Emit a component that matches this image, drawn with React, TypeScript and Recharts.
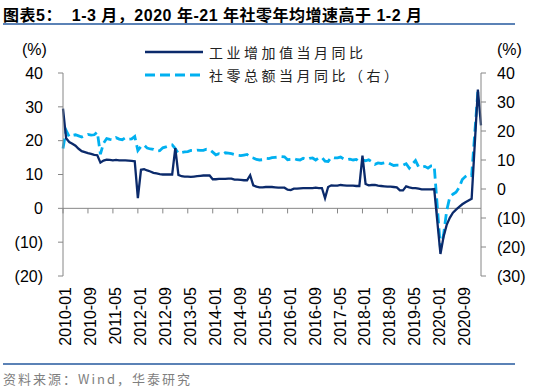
import React from 'react';
import { LineChart, Line, XAxis, YAxis, ReferenceLine } from 'recharts';

// month labels 2010-01 .. 2021-03
const months: string[] = [];
for (let y = 2010; y <= 2021; y++) {
  for (let m = 1; m <= 12; m++) {
    if (y === 2021 && m > 3) break;
    months.push(`${y}-${String(m).padStart(2, '0')}`);
  }
}

// 工业增加值 (left axis)
const industry: (number | null)[] = [
  29.5, 20.7, 19.6, 19.1, 18.5, 17.6, 16.9, 16.6, 16.3, 16.1, 15.8, 15.7,
  13.5, 14.1, 14.4, 14.3, 14.2, 14.3, 14.2, 14.2, 14.2, 14.1, 14.0, 13.9,
  3.0, 11.4, 11.6, 11.2, 10.9, 10.5, 10.3, 10.1, 10.0, 10.0, 10.0, 10.0,
  17.8, 9.9, 9.5, 9.4, 9.4, 9.3, 9.4, 9.5, 9.6, 9.7, 9.7, 9.7,
  8.6, 8.6, 8.7, 8.7, 8.7, 8.8, 8.8, 8.5, 8.5, 8.4, 8.3, 8.3,
  9.8, 6.8, 6.4, 6.2, 6.2, 6.3, 6.3, 6.3, 6.2, 6.1, 6.1, 6.1,
  5.5, 5.4, 5.8, 5.8, 5.9, 6.0, 6.0, 6.0, 6.0, 6.1, 6.0, 6.0,
  3.0, 6.3, 6.8, 6.7, 6.7, 6.9, 6.8, 6.7, 6.7, 6.7, 6.6, 6.6,
  15.6, 7.2, 6.8, 6.9, 6.9, 6.7, 6.6, 6.5, 6.4, 6.4, 6.3, 6.2,
  5.3, 5.3, 6.5, 6.2, 6.0, 6.0, 5.8, 5.6, 5.6, 5.6, 5.6, 5.7,
  null, -13.5, -8.4, -4.9, -2.8, -1.3, -0.4, 0.4, 1.2, 1.8, 2.3, 2.8,
  null, 35.1, 24.5,
];

// 社零总额 (right axis)
const retail: (number | null)[] = [
  14.0, 20.2, 18.0, 18.5, 18.7, 18.3, 17.9, 18.4, 18.8, 18.6, 18.7, 19.6,
  12.0, 15.8, 17.4, 17.1, 16.9, 17.7, 17.2, 17.0, 17.7, 17.2, 17.3, 18.1,
  13.3, 14.7, 15.2, 14.1, 13.8, 13.7, 13.1, 13.2, 14.2, 14.5, 14.9, 15.2,
  13.9, 12.3, 12.6, 12.8, 12.9, 13.3, 13.2, 13.4, 13.3, 13.3, 13.7, 13.6,
  12.7, 11.8, 12.2, 11.9, 12.5, 12.4, 12.2, 11.9, 11.6, 11.5, 11.7, 11.9,
  11.0, 10.7, 10.2, 10.0, 10.1, 10.6, 10.5, 10.8, 10.9, 11.0, 11.2, 11.1,
  10.1, 10.2, 10.5, 10.1, 10.0, 10.6, 10.2, 10.6, 10.7, 10.0, 10.8, 10.9,
  9.6, 9.5, 10.9, 10.7, 10.7, 11.0, 10.4, 10.1, 10.3, 10.0, 10.2, 9.4,
  10.1, 9.7, 10.1, 9.4, 8.5, 9.0, 8.8, 9.0, 9.2, 8.6, 8.1, 8.2,
  8.2, 8.2, 8.7, 7.2, 8.6, 9.8, 7.6, 7.5, 7.8, 7.2, 8.0, 8.0,
  null, -20.5, -15.8, -7.5, -2.8, -1.8, -1.1, 0.5, 3.3, 4.3, 5.0, 4.6,
  null, 33.8, 34.2,
];

const leftTicks = [-20, -10, 0, 10, 20, 30, 40];
const rightTicks = [-30, -20, -10, 0, 10, 20, 30, 40];

const DARK = '#0b2a6b';
const LIGHT = '#00b0f0';
const AXIS = '#868686';
const RULE = '#5b82b6';
const CJK = "'Liberation Sans', Arial, 'Noto Sans CJK SC', sans-serif";

const data = months.map((m, i) => ({ month: m, industry: industry[i], retail: retail[i] }));
const tickMonths = months.filter((_, i) => i % 8 === 0);

const fmt = (v: number) => (v < 0 ? `(${Math.abs(v)})` : `${v}`);

const MonthTick = (props: any) => {
  const { x, y, payload } = props;
  return (
    <text
      x={x}
      y={y}
      dy={8}
      transform={`rotate(-90, ${x}, ${y})`}
      textAnchor="end"
      fill="#000"
      fontSize={16}
    >
      {payload.value}
    </text>
  );
};

const legendItems = [
  { name: '工业增加值当月同比', color: DARK, dash: undefined as string | undefined, width: 2.3 },
  { name: '社零总额当月同比（右）', color: LIGHT, dash: '10 5', width: 2.8 },
];

export default function App() {
  return (
    <div
      style={{
        position: 'absolute',
        left: 0,
        top: 0,
        width: 550,
        height: 391,
        background: '#fff',
        fontFamily: CJK,
        overflow: 'hidden',
      }}
    >
      <div style={{ position: 'absolute', left: 3, top: 2, fontSize: 16, fontWeight: 'bold', letterSpacing: 0.5, whiteSpace: 'pre', color: '#000' }}>
        图表5：  1-3 月，2020 年-21 年社零年均增速高于 1-2 月
      </div>
      <div style={{ position: 'absolute', left: 3, top: 23, width: 512, height: 2, background: RULE }} />

      <div style={{ position: 'absolute', left: 22, top: 41, fontSize: 16 }}>(%)</div>
      <div style={{ position: 'absolute', left: 497, top: 41, fontSize: 16 }}>(%)</div>

      <LineChart
        width={550}
        height={391}
        data={data}
        margin={{ top: 73, right: 19, bottom: 35, left: 13 }}
      >
        <XAxis
          dataKey="month"
          interval={7}
          height={80}
          axisLine={false}
          tickLine={false}
          tickSize={0}
          tickMargin={11}
          tick={<MonthTick />}
        />
        <YAxis
          yAxisId="left"
          width={50}
          domain={[-20, 40]}
          ticks={leftTicks}
          tickFormatter={fmt}
          tick={{ fill: '#000', fontSize: 16 }}
          tickSize={5}
          tickMargin={15}
          stroke={AXIS}
        />
        <YAxis
          yAxisId="right"
          orientation="right"
          width={50}
          domain={[-30, 40]}
          ticks={rightTicks}
          tickFormatter={fmt}
          tick={{ fill: '#000', fontSize: 16 }}
          tickSize={5}
          tickMargin={11}
          stroke={AXIS}
        />
        <ReferenceLine yAxisId="left" y={0} stroke={AXIS} strokeWidth={1} />
        {tickMonths.map((m) => (
          <ReferenceLine
            key={m}
            yAxisId="left"
            segment={[{ x: m, y: 0 }, { x: m, y: -1.5 }]}
            stroke={AXIS}
            strokeWidth={1}
          />
        ))}
        <Line
          yAxisId="right"
          dataKey="retail"
          stroke={LIGHT}
          strokeWidth={2.8}
          strokeDasharray="10 5"
          dot={false}
          connectNulls
          isAnimationActive={false}
        />
        <Line
          yAxisId="left"
          dataKey="industry"
          stroke={DARK}
          strokeWidth={2.3}
          dot={false}
          connectNulls
          isAnimationActive={false}
        />
      </LineChart>

      <div style={{ position: 'absolute', left: 145, top: 40 }}>
        {legendItems.map((it) => (
          <div key={it.name} style={{ display: 'flex', alignItems: 'center', height: 23.5 }}>
            <svg width={58} height={6} style={{ marginRight: 6 }}>
              <line x1={0} y1={3} x2={58} y2={3} stroke={it.color} strokeWidth={it.width} strokeDasharray={it.dash} />
            </svg>
            <span style={{ fontSize: 14, letterSpacing: 3.5, color: '#222', fontFamily: "'Noto Sans CJK SC', sans-serif" }}>
              {it.name}
            </span>
          </div>
        ))}
      </div>

      <div style={{ position: 'absolute', left: 3, top: 363, width: 512, height: 2, background: RULE }} />
      <div style={{ position: 'absolute', left: 3, top: 369, fontSize: 13, letterSpacing: 2, color: '#7f7f7f', fontFamily: "'Noto Sans CJK SC', sans-serif" }}>
        资料来源：Wind，华泰研究
      </div>
    </div>
  );
}
